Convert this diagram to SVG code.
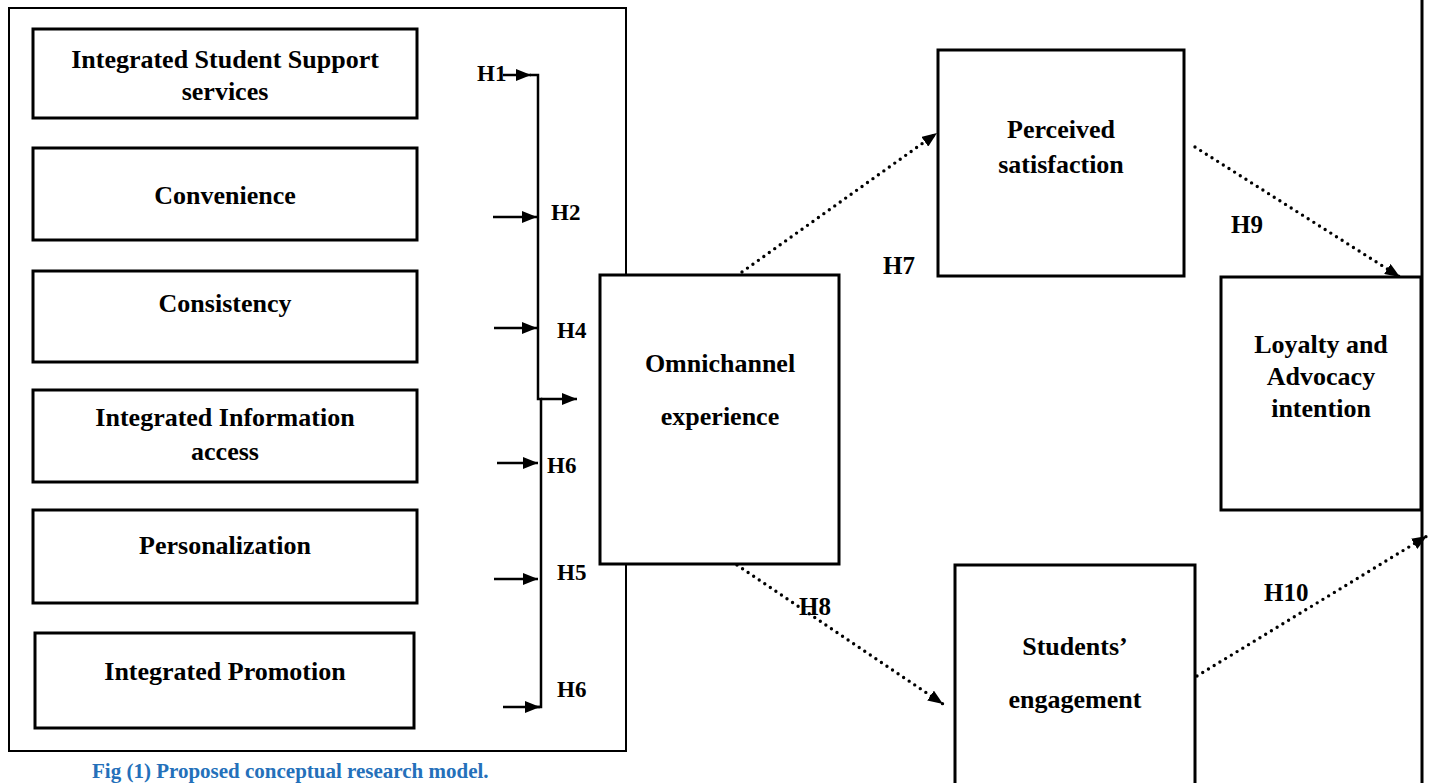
<svg xmlns="http://www.w3.org/2000/svg" width="1431" height="783" viewBox="0 0 1431 783">
<style>
.box{fill:#fff;stroke:#000;stroke-width:3}
.frame{fill:none;stroke:#000;stroke-width:2}
.t{font-family:"Liberation Serif","Times New Roman",serif;font-weight:bold;font-size:26px;fill:#000;text-anchor:middle}
.h{font-family:"Liberation Serif","Times New Roman",serif;font-weight:bold;font-size:23px;fill:#000}
.hr{font-family:"Liberation Serif","Times New Roman",serif;font-weight:bold;font-size:25px;fill:#000}
.cap{font-family:"Liberation Serif","Times New Roman",serif;font-weight:bold;font-size:21px;fill:#2470BA}
.sol{stroke:#000;stroke-width:2.5;fill:none}
.dot{stroke:#000;stroke-width:3.4;stroke-linecap:round;stroke-dasharray:0 6.7;fill:none}
</style>
<defs>
<marker id="ah" markerUnits="userSpaceOnUse" markerWidth="16" markerHeight="12" refX="15" refY="6" orient="auto">
<path d="M0,0 L15,6 L0,12 z" fill="#000"/>
</marker>
</defs>
<rect width="1431" height="783" fill="#fff"/>
<g id="frame">
<rect x="9" y="8" width="617" height="743" class="frame"/>
<line x1="1422" y1="0" x2="1422" y2="783" stroke="#000" stroke-width="3"/>
</g>
<g id="n-support"><rect x="33" y="29" width="384" height="89" class="box"/><text x="225" y="68" class="t">Integrated Student Support</text><text x="225" y="100" class="t">services</text></g>
<g id="n-convenience"><rect x="33" y="148" width="384" height="92" class="box"/><text x="225" y="204" class="t">Convenience</text></g>
<g id="n-consistency"><rect x="33" y="271" width="384" height="91" class="box"/><text x="225" y="312" class="t">Consistency</text></g>
<g id="n-info"><rect x="33" y="390" width="384" height="92" class="box"/><text x="225" y="426" class="t">Integrated Information</text><text x="225" y="460" class="t">access</text></g>
<g id="n-personalization"><rect x="33" y="510" width="384" height="93" class="box"/><text x="225" y="554" class="t">Personalization</text></g>
<g id="n-promotion"><rect x="35" y="633" width="379" height="95" class="box"/><text x="225" y="680" class="t">Integrated Promotion</text></g>
<g id="n-omni"><rect x="600" y="275" width="239" height="289" class="box"/><text x="720" y="372" class="t">Omnichannel</text><text x="720" y="425" class="t">experience</text></g>
<g id="n-satisfaction"><rect x="938" y="50" width="246" height="226" class="box"/><text x="1061" y="138" class="t">Perceived</text><text x="1061" y="173" class="t">satisfaction</text></g>
<g id="n-loyalty"><rect x="1221" y="277" width="200" height="233" class="box"/><text x="1321" y="353" class="t">Loyalty and</text><text x="1321" y="385" class="t">Advocacy</text><text x="1321" y="417" class="t">intention</text></g>
<g id="n-engagement"><rect x="955" y="565" width="240" height="230" class="box"/><text x="1075" y="655" class="t">Students’</text><text x="1075" y="708" class="t">engagement</text></g>
<g id="connectors">
<path d="M530,75 H538 V399 H541 V707 H536" class="sol"/>
<line x1="503" y1="75" x2="531" y2="75" class="sol" marker-end="url(#ah)"/>
<line x1="493" y1="217" x2="537" y2="217" class="sol" marker-end="url(#ah)"/>
<line x1="494" y1="328" x2="537" y2="328" class="sol" marker-end="url(#ah)"/>
<line x1="541" y1="399" x2="577" y2="399" class="sol" marker-end="url(#ah)"/>
<line x1="497" y1="463" x2="538" y2="463" class="sol" marker-end="url(#ah)"/>
<line x1="494" y1="579" x2="538" y2="579" class="sol" marker-end="url(#ah)"/>
<line x1="503" y1="707" x2="540" y2="707" class="sol" stroke-width="3.5" marker-end="url(#ah)"/>
<line x1="742" y1="272" x2="937" y2="133" class="dot" marker-end="url(#ah)"/>
<line x1="737" y1="565" x2="943" y2="704" class="dot" marker-end="url(#ah)"/>
<line x1="1195" y1="147" x2="1400" y2="277" class="dot" marker-end="url(#ah)"/>
<line x1="1197" y1="676" x2="1427" y2="536" class="dot" marker-end="url(#ah)"/>
</g>
<g id="labels">
<text x="477" y="81" class="h">H1</text>
<text x="551" y="220" class="h">H2</text>
<text x="557" y="338" class="h">H4</text>
<text x="547" y="473" class="h">H6</text>
<text x="557" y="580" class="h">H5</text>
<text x="557" y="697" class="h">H6</text>
<text x="883" y="274" class="hr">H7</text>
<text x="799" y="615" class="hr">H8</text>
<text x="1231" y="233" class="hr">H9</text>
<text x="1264" y="601" class="hr">H10</text>
</g>
<text x="92" y="778" class="cap">Fig (1) Proposed conceptual research model.</text>
</svg>
